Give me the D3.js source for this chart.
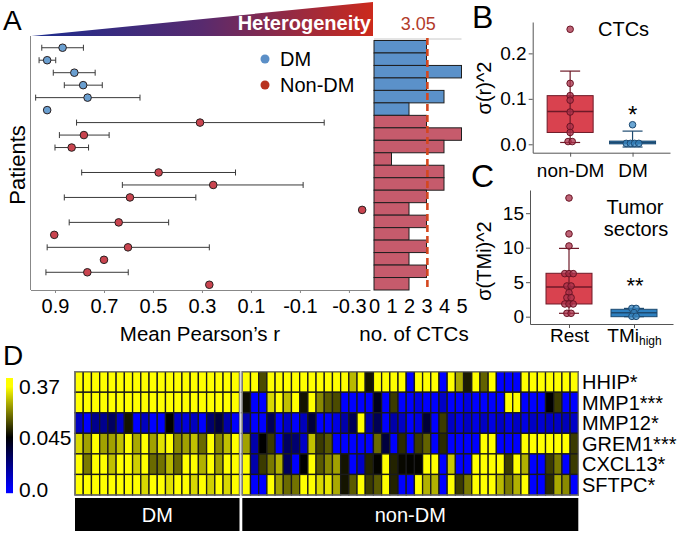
<!DOCTYPE html>
<html><head><meta charset="utf-8">
<script src="https://cdn.jsdelivr.net/npm/d3@7"></script>
<style>
body{margin:0;background:#fff}
svg{display:block}
text{font-family:"Liberation Sans",Arial,sans-serif}
</style>
</head><body>
<svg id="chart" width="680" height="533"></svg>
<script>
// ---------------- DATA ----------------
// Panel A
const patients = d3.range(1, 21).map(i => "P" + i);
const patientGroup = ["DM","DM","DM","DM","DM","DM",
  "Non-DM","Non-DM","Non-DM","Non-DM","Non-DM","Non-DM","Non-DM",
  "Non-DM","Non-DM","Non-DM","Non-DM","Non-DM","Non-DM","Non-DM"];
const meanR = [0.869,0.932,0.821,0.785,0.767,0.932,0.308,0.782,0.832,null,
  0.477,0.254,0.594,-0.354,0.640,0.903,0.602,0.700,0.768,0.270];
const rUpper = [0.954,0.965,0.907,0.862,0.979,null,0.812,0.882,0.900,null,
  0.791,0.625,0.862,null,0.842,null,0.932,null,0.937,null];
const rLower = [0.784,0.897,0.736,0.707,0.553,null,-0.199,0.679,0.763,null,
  0.163,-0.113,0.325,null,0.436,null,0.270,null,0.601,null];
const ctcCounts = [3,3,5,3,4,2,3,5,4,1,4,4,3,2,3,2,3,2,3,2];
const ctcMean = 3.05;
const rTicks = [0.9,0.7,0.5,0.3,0.1,-0.1,-0.3];
const rTickLabels = ["0.9","0.7","0.5","0.3","0.1","-0.1","-0.3"];
const ctcTicks = [0,1,2,3,4,5];

// Panel B
const ctcGroups = ["non-DM","DM"];
const ctcVarNonDM = [0.253,0.134,0.107,0.097,0.071,0.039,0.026,0.006,0.006];
const ctcVarDM = [0.043,0.002,0.002,0.002,0.002];
const ctcBoxLo  = [0.004,-0.006];
const ctcBoxQ1  = [0.026,0.001];
const ctcBoxMed = [0.072,0.004];
const ctcBoxQ3  = [0.107,0.007];
const ctcBoxHi  = [0.161,0.029];
const ctcVarTicks = [0.0,0.1,0.2];

// Panel C
const sectorGroups = ["Rest","TMi_high"];
const tmiVarRest = [17.2,12.0,10.25,6.24,6.24,6.24,4.45,4.45,3.48,2.76,2.76,1.84,1.84,1.84,0.49,0.49];
const tmiVarHigh = [1.2,1.2,0.58,0.05,0.05];
const tmiBoxLo  = [0.49,0.0];
const tmiBoxQ1  = [1.84,0.0];
const tmiBoxMed = [4.3,0.58];
const tmiBoxQ3  = [6.29,1.07];
const tmiBoxHi  = [9.9,1.2];
const tmiTicks = [0,5,10,15];

// Panel D
const genes = ["HHIP*","MMP1***","MMP12*","GREM1***","CXCL13*","SFTPC*"];
const dmExpr = [
  [0.37,0.37,0.37,0.37,0.37,0.37,0.37,0.37,0.37,0.37,0.37,0.37,0.37,0.37,0.37,0.37,0.37,0.37,0.37,0.37],
  [0.37,0.37,0.37,0.37,0.37,0.37,0.37,0.37,0.37,0.37,0.37,0.37,0.37,0.37,0.37,0.37,0.37,0.37,0.37,0.37],
  [0.011,0,0.02,0.02,0.028,0.011,0.07,0,0.011,0,0,0.045,0.011,0.006,0.011,0,0.026,0.034,0.015,0],
  [0.32,0.25,0.37,0.25,0.25,0.29,0.37,0.26,0.37,0.25,0.33,0.37,0.22,0.25,0.29,0.18,0.37,0.22,0.29,0.37],
  [0.37,0.20,0.37,0.37,0.29,0.37,0.37,0.31,0.37,0.18,0.19,0.28,0.18,0.37,0.37,0.27,0.37,0.25,0.37,0.37],
  [0.37,0.37,0.37,0.37,0.37,0.37,0.37,0.37,0.32,0.37,0.37,0.33,0.37,0.37,0.32,0.37,0.31,0.37,0.32,0.37]
];
const nonDmExpr = [
  [0.37,0.37,0.14,0.37,0.37,0.37,0.37,0.37,0.37,0.37,0.37,0.37,0.37,0.28,0.37,0.07,0.37,0.37,0.37,0.37,
   0,0.37,0.37,0.37,0,0.37,0.26,0.08,0.37,0.17,0.37,0,0,0,0.37,0.37,0.37,0.37,0.37,0.37,0.37],
  [0.06,0,0,0.32,0.37,0.29,0.37,0.07,0.37,0.22,0.16,0.14,0,0,0,0,0.04,0,0.12,0,
   0,0.005,0,0,0.01,0,0,0.005,0,0,0,0,0.37,0.37,0,0,0,0.045,0.12,0,0],
  [0.015,0,0,0.03,0,0.01,0,0.012,0.035,0,0,0.005,0.015,0.03,0.37,0.015,0.03,0,0.015,0.01,
   0,0.005,0.035,0,0.12,0.01,0.005,0.01,0.005,0.01,0.005,0.01,0.005,0.01,0.005,0.01,0.008,0.01,0.01,0.012,0.01],
  [0.25,0.015,0.045,0.12,0,0.028,0.025,0.01,0.29,0.12,0.16,0,0,0,0,0,0.18,0.034,0,0.1,
   0,0.12,0.17,0,0.1,0,0,0,0,0.37,0.37,0,0,0,0.37,0.37,0.37,0.37,0.37,0.37,0.12],
  [0.37,0.015,0.12,0.2,0.27,0.028,0,0.045,0.37,0.16,0.22,0.25,0.07,0,0.01,0.09,0.05,0.37,0.09,0.055,
   0.05,0.05,0.37,0.37,0,0.3,0,0,0.37,0.37,0.37,0.37,0.12,0.37,0.27,0,0,0.12,0.2,0,0.12],
  [0.37,0,0,0.37,0.25,0.18,0.19,0.37,0.37,0.32,0.34,0.26,0.07,0.16,0.37,0.12,0.16,0.37,0.09,0,
   0,0.37,0.27,0.27,0,0.37,0.12,0.2,0.37,0.37,0.37,0.28,0.2,0.27,0.37,0,0,0.1,0.26,0.22,0]
];
const heatStops = [0, 0.045, 0.37];
const heatStopLabels = ["0.0","0.045","0.37"];

// ---------------- DRAW ----------------
const svg = d3.select("#chart");
const defs = svg.append("defs");
const FONT = 20;

// Panel letters
svg.append("text").attr("x",3).attr("y",30).attr("font-size",28).text("A");
svg.append("text").attr("x",472).attr("y",28).attr("font-size",32).text("B");
svg.append("text").attr("x",471).attr("y",187).attr("font-size",32).text("C");
svg.append("text").attr("x",3).attr("y",365).attr("font-size",28).text("D");

// ---- Panel A ----
const yRow = d3.scaleBand().domain(patients).range([40.5, 290]);
const xR = d3.scaleLinear().domain([1.0, -0.386]).range([30.5, 370]);
const xC = d3.scaleLinear().domain([0, 5]).range([374, 461.5]);

// heterogeneity wedge
const grad = defs.append("linearGradient").attr("id","het").attr("x1","0").attr("x2","1").attr("y1","0").attr("y2","0");
grad.append("stop").attr("offset","0").attr("stop-color","#1c2d8f");
grad.append("stop").attr("offset","0.5").attr("stop-color","#582a6e");
grad.append("stop").attr("offset","1").attr("stop-color","#cc2a1c");
svg.append("path").attr("d", d3.line()([[xR(1.0)+1,36],[373,2],[373,36]]) + "Z").attr("fill","url(#het)");
svg.append("text").attr("x",371).attr("y",30).attr("text-anchor","end").attr("font-size",20)
  .attr("font-weight","bold").attr("fill","#fff").text("Heterogeneity");

// axes
svg.append("line").attr("x1",xR.range()[0]).attr("x2",xR.range()[0]).attr("y1",36).attr("y2",yRow.range()[1])
  .attr("stroke","#888").attr("stroke-width",1);
const axA = svg.append("g").attr("transform",`translate(0,${yRow.range()[1]})`)
  .call(d3.axisBottom(xR).tickValues(rTicks).tickFormat((d,i)=>rTickLabels[i]).tickSize(3).tickSizeOuter(0).tickPadding(6));
axA.select(".domain").attr("stroke","#888");
axA.selectAll(".tick line").attr("stroke","#888");
axA.selectAll("text").attr("font-size",FONT).attr("fill","#000").attr("font-family",'"Liberation Sans",Arial,sans-serif');

const axC = svg.append("g").attr("transform",`translate(0,${yRow.range()[1]})`)
  .call(d3.axisBottom(xC).tickValues(ctcTicks).tickFormat(d3.format("d")).tickSize(0).tickPadding(9));
axC.select(".domain").remove();
axC.selectAll("text").attr("font-size",FONT).attr("fill","#000").attr("font-family",'"Liberation Sans",Arial,sans-serif');

svg.append("text").attr("x",200).attr("y",341).attr("text-anchor","middle").attr("font-size",20.5).text("Mean Pearson’s r");
svg.append("text").attr("x",414).attr("y",341).attr("text-anchor","middle").attr("font-size",20.5).text("no. of CTCs");
svg.append("text").attr("transform","translate(25,165) rotate(-90)").attr("text-anchor","middle").attr("font-size",22).text("Patients");

// error bars + points
const colDM = "#6a9fd0", colNon = "#c9444f";
const rowsA = patients.map((p,i)=>({p, g:patientGroup[i], r:meanR[i], up:rUpper[i], lo:rLower[i], n:ctcCounts[i]}));
const cyA = d => yRow(d.p) + yRow.bandwidth()/2 + 1;
const eb = svg.append("g").attr("stroke","#3a3a3a").attr("stroke-width",1);
rowsA.filter(d=>d.up!=null).forEach(d=>{
  eb.append("line").attr("x1",xR(d.up)).attr("x2",xR(d.lo)).attr("y1",cyA(d)).attr("y2",cyA(d));
  eb.append("line").attr("x1",xR(d.up)).attr("x2",xR(d.up)).attr("y1",cyA(d)-3).attr("y2",cyA(d)+3);
  eb.append("line").attr("x1",xR(d.lo)).attr("x2",xR(d.lo)).attr("y1",cyA(d)-3).attr("y2",cyA(d)+3);
});
svg.append("g").selectAll("circle").data(rowsA.filter(d=>d.r!=null)).join("circle")
  .attr("cx",d=>xR(d.r)).attr("cy",cyA).attr("r",3.8)
  .attr("fill",d=>d.g==="DM"?colDM:colNon).attr("stroke","#2a2020").attr("stroke-width",1);

// legend
const legend = [["DM","#5b8fc7"],["Non-DM","#b8321e"]];
legend.forEach(([t,c],i)=>{
  svg.append("circle").attr("cx",265).attr("cy",59+i*26).attr("r",4.5).attr("fill",c);
  svg.append("text").attr("x",280).attr("y",66+i*26).attr("font-size",FONT).text(t);
});

// CTC bars
svg.append("line").attr("x1",xC(0)).attr("x2",xC(5)).attr("y1",39).attr("y2",39).attr("stroke","#c8c8c8");
svg.append("g").selectAll("rect").data(rowsA).join("rect")
  .attr("x",xC(0)).attr("y",d=>yRow(d.p)).attr("width",d=>xC(d.n)-xC(0)).attr("height",yRow.bandwidth())
  .attr("fill",d=>d.g==="DM"?"#5b91c9":"#c65b6c").attr("stroke","#1e1e1e").attr("stroke-width",1);
svg.append("line").attr("x1",xC(ctcMean)).attr("x2",xC(ctcMean)).attr("y1",38).attr("y2",yRow.range()[1])
  .attr("stroke","#d4471f").attr("stroke-width",2.6).attr("stroke-dasharray","7,4");
svg.append("text").attr("x",xC(ctcMean)-9).attr("y",30).attr("text-anchor","middle").attr("font-size",18)
  .attr("fill","#b23b2a").text(d3.format(".2f")(ctcMean));

// ---- helper for box panels ----
function dodge(vals, y, tol, step){
  const sorted = vals.slice().sort((a,b)=>b-a);
  const out=[]; let bin=[];
  const flush=()=>{bin.forEach((v,k)=>out.push({v, dx:(k-(bin.length-1)/2)*step})); bin=[];};
  sorted.forEach(v=>{ if(bin.length && Math.abs(y(v)-y(bin[0]))>tol) flush(); bin.push(v); });
  flush();
  return out;
}
function boxPanel(opt){
  const {x,y,groups,values,lo,q1,med,q3,hi,ticks,tickFmt,fills,strokes,ptFill,ptStroke,labPad} = opt;
  const g = svg.append("g");
  const ax = g.append("g").attr("transform",`translate(${x.range()[0]},0)`)
    .call(d3.axisLeft(y).tickValues(ticks).tickFormat(tickFmt).tickSize(4).tickSizeOuter(0).tickPadding(2));
  ax.selectAll("path,line").attr("stroke","#555");
  ax.selectAll("text").attr("font-size",19).attr("fill","#000").attr("font-family",'"Liberation Sans",Arial,sans-serif');
  const bx = g.append("g").attr("transform",`translate(0,${y.range()[0]})`)
    .call(d3.axisBottom(x).tickSize(4).tickSizeOuter(0).tickPadding(labPad));
  bx.selectAll("path,line").attr("stroke","#555");
  bx.selectAll("text").attr("font-size",19).attr("fill","#000").attr("font-family",'"Liberation Sans",Arial,sans-serif');
  groups.forEach((grp,i)=>{
    const cx = x(grp), bw = 46;
    g.append("rect").attr("x",cx-bw/2).attr("width",bw).attr("y",y(q3[i])).attr("height",Math.max(1,y(q1[i])-y(q3[i])))
      .attr("fill",fills[i]).attr("stroke",strokes[i]).attr("stroke-width",1);
    g.append("line").attr("x1",cx).attr("x2",cx).attr("y1",y(lo[i])).attr("y2",y(hi[i])).attr("stroke",strokes[i]).attr("stroke-width",1.2);
    [lo[i],hi[i]].forEach(v=>g.append("line").attr("x1",cx-10).attr("x2",cx+10).attr("y1",y(v)).attr("y2",y(v)).attr("stroke",strokes[i]).attr("stroke-width",1.2));
    g.append("line").attr("x1",cx-bw/2).attr("x2",cx+bw/2).attr("y1",y(med[i])).attr("y2",y(med[i])).attr("stroke",strokes[i]).attr("stroke-width",1.5);
    dodge(values[i], y, 2.5, 4.2).forEach(d=>{
      g.append("circle").attr("cx",cx+d.dx).attr("cy",y(d.v)).attr("r",3.3)
        .attr("fill",ptFill[i]).attr("fill-opacity",0.75).attr("stroke",ptStroke[i]).attr("stroke-width",1);
    });
  });
  return bx;
}

// ---- Panel B ----
const yB = d3.scaleLinear().domain([-0.0185, 0.269]).range([152.7, 22]);
const xB = d3.scalePoint().domain(ctcGroups).range([532.7, 670]).padding(0.6);
boxPanel({x:xB,y:yB,groups:ctcGroups,values:[ctcVarNonDM,ctcVarDM],lo:ctcBoxLo,q1:ctcBoxQ1,med:ctcBoxMed,q3:ctcBoxQ3,hi:ctcBoxHi,
  ticks:ctcVarTicks,tickFmt:d3.format(".1f"),fills:["#d9424f","#2e80c0"],strokes:["#6e1a28","#1d4a70"],
  ptFill:["#a8304a","#3a88c4"],ptStroke:["#6a1424","#1d4a72"],labPad:7});
svg.append("text").attr("transform","translate(491,88) rotate(-90)").attr("text-anchor","middle").attr("font-size",20).text("σ(r)^2");
svg.append("text").attr("x",598).attr("y",36).attr("font-size",20).text("CTCs");
svg.append("text").attr("x",xB("DM")).attr("y",123).attr("text-anchor","middle").attr("font-size",24).text("*");

// ---- Panel C ----
const yCc = d3.scaleLinear().domain([-1.06, 18.36]).range([324, 190]);
const xCc = d3.scalePoint().domain(sectorGroups).range([530, 673]).padding(0.6);
const bxC = boxPanel({x:xCc,y:yCc,groups:sectorGroups,values:[tmiVarRest,tmiVarHigh],lo:tmiBoxLo,q1:tmiBoxQ1,med:tmiBoxMed,q3:tmiBoxQ3,hi:tmiBoxHi,
  ticks:tmiTicks,tickFmt:d3.format("d"),fills:["#d9424f","#2e80c0"],strokes:["#6e1a28","#1d4a70"],
  ptFill:["#a8304a","#3a88c4"],ptStroke:["#6a1424","#1d4a72"],labPad:1});
bxC.selectAll(".tick text").each(function(d){
  if(d.includes("_")){
    const [main,sub] = d.split("_");
    const t = d3.select(this).text(main);
    t.append("tspan").attr("font-size",12).attr("dy",3).text(sub);
  }
});
svg.append("text").attr("transform","translate(491,261) rotate(-90)").attr("text-anchor","middle").attr("font-size",20).text("σ(TMi)^2");
svg.append("text").attr("x",635).attr("y",214).attr("text-anchor","middle").attr("font-size",20).text("Tumor");
svg.append("text").attr("x",636).attr("y",236).attr("text-anchor","middle").attr("font-size",20).text("sectors");
svg.append("text").attr("x",xCc("TMi_high")+1).attr("y",293).attr("text-anchor","middle").attr("font-size",22).text("**");

// ---- Panel D ----
const heat = d3.scaleLinear().domain(heatStops).range(["#0000ff","#000000","#ffff00"]).clamp(true);
const yG = d3.scaleBand().domain(genes).range([371.7, 495]);
const blocks = [
  {name:"DM", data:dmExpr, x:d3.scaleBand().domain(d3.range(dmExpr[0].length)).range([75, 239.5])},
  {name:"non-DM", data:nonDmExpr, x:d3.scaleBand().domain(d3.range(nonDmExpr[0].length)).range([242.3, 578.3])}
];
blocks.forEach(b=>{
  const g = svg.append("g");
  genes.forEach((gene,ri)=>{
    g.selectAll(null).data(b.data[ri]).join("rect")
      .attr("x",(v,ci)=>b.x(ci)).attr("y",yG(gene)).attr("width",b.x.bandwidth()).attr("height",yG.bandwidth())
      .attr("fill",v=>heat(v)).attr("stroke","#1a1a1a").attr("stroke-width",1.3);
  });
  const [x0,x1] = b.x.range();
  g.append("rect").attr("x",x0).attr("y",yG.range()[0]).attr("width",x1-x0).attr("height",yG.range()[1]-yG.range()[0])
    .attr("fill","none").attr("stroke","#8a8a8a").attr("stroke-width",1);
  g.append("rect").attr("x",x0).attr("y",498).attr("width",x1-x0).attr("height",33).attr("fill","#000");
  g.append("text").attr("x",(x0+x1)/2).attr("y",522).attr("text-anchor","middle").attr("fill","#fff").attr("font-size",20).text(b.name);
});
svg.append("g").selectAll("text").data(genes).join("text")
  .attr("x",582).attr("y",d=>yG(d)+yG.bandwidth()/2).attr("dy","0.36em").attr("font-size",20).text(d=>d);

// colour bar
const cbY = d3.scaleLinear().domain(heatStops).range([489, 437.3, 386.7]).clamp(true);
const cbRows = d3.range(378, 493, 1);
svg.append("g").selectAll("rect").data(cbRows).join("rect")
  .attr("x",6).attr("y",d=>d).attr("width",7).attr("height",1.2)
  .attr("fill",d=>heat(cbY.invert(d+0.5)));
svg.append("g").selectAll("text").data(heatStops).join("text")
  .attr("x",19).attr("y",d=>cbY(d)).attr("dy","0.36em").attr("font-size",21).text((d,i)=>heatStopLabels[i]);
</script>
</body></html>
